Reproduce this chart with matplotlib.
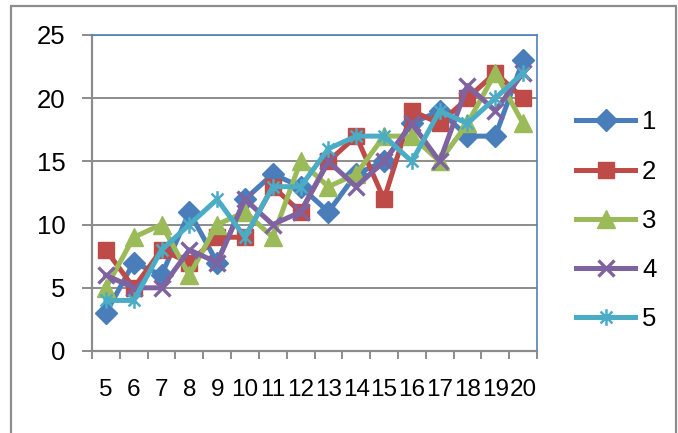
import matplotlib
matplotlib.use("Agg")
import matplotlib.pyplot as plt
from matplotlib.path import Path
from matplotlib.patches import Rectangle

# values
categories = list(range(5, 21))
s1 = [3, 7, 6, 11, 7, 12, 14, 13, 11, 14, 15, 18, 19, 17, 17, 23]
s2 = [8, 5, 8, 7, 9, 9, 13, 11, 15, 17, 12, 19, 18, 20, 22, 20]
s3 = [5, 9, 10, 6, 10, 11, 9, 15, 13, 14, 17, 17, 15, 18, 22, 18]
s4 = [6, 5, 5, 8, 7, 12, 10, 11, 15, 13, 15, 18, 15, 21, 19, 22]
s5 = [4, 4, 8, 10, 12, 9, 13, 13, 16, 17, 17, 15, 19, 18, 20, 22]
series_names = ["1", "2", "3", "4", "5"]

plt.rcParams["font.family"] = ["Liberation Sans", "DejaVu Sans"]

# asterisk marker (x plus vertical bar)
star = Path([(-1, -1), (1, 1), (-1, 1), (1, -1), (0, -1.4), (0, 1.4)],
            [Path.MOVETO, Path.LINETO, Path.MOVETO, Path.LINETO, Path.MOVETO, Path.LINETO])

fig = plt.figure(figsize=(6.78, 4.33), dpi=100)
ax = fig.add_axes([92 / 678, 1 - 351 / 433, (537 - 92) / 678, (351 - 35) / 433])

styles = [
    dict(color="#4A7EBB", marker="D", ms=11),
    dict(color="#BE4B48", marker="s", ms=12),
    dict(color="#9BBB59", marker="^", ms=13),
    dict(color="#7F62A0", marker="x", ms=12, mew=2.4),
    dict(color="#4BACC6", marker=star, ms=12, mew=1.8),
]
for vals, name, st in zip([s1, s2, s3, s4, s5], series_names, styles):
    ax.plot(categories, vals, lw=3.6, label=name, **st)

ax.set_xlim(4.5, 20.5)
ax.set_ylim(0, 25)
ax.set_yticks(range(0, 26, 5))
ax.yaxis.grid(True, color="#8C8C8C", lw=1.4)
ax.set_axisbelow(True)

# category boundaries as tick marks, labels at centers
ax.set_xticks([c - 0.5 for c in categories] + [20.5])
ax.set_xticklabels([])
ax.set_xticks(categories, minor=True)
ax.set_xticklabels([str(c) for c in categories], minor=True)
ax.tick_params(axis="x", which="major", length=6, width=1.4, color="#8C8C8C")
ax.tick_params(axis="x", which="minor", length=0, pad=20, labelsize=17.5)
ax.tick_params(axis="y", length=7, width=1.4, color="#8C8C8C", pad=12, labelsize=18.5)

for side in ["left", "bottom"]:
    ax.spines[side].set_color("#8C8C8C")
    ax.spines[side].set_linewidth(1.6)
for side in ["top", "right"]:
    ax.spines[side].set_color("#4F81BD")
    ax.spines[side].set_linewidth(1.2)

leg = fig.legend(loc="center left", bbox_to_anchor=(0.816, 0.49), frameon=False,
                 fontsize=18.5, handlelength=2.3, labelspacing=0.98, handletextpad=0.25)

# outer chart border
fig.patches.append(Rectangle((11 / 678, -0.1), (676 - 11) / 678, 1.1 - 6 / 433,
                             transform=fig.transFigure, fill=False,
                             edgecolor="#8C8C8C", lw=1.6))

fig.savefig("out.png", dpi=100)
